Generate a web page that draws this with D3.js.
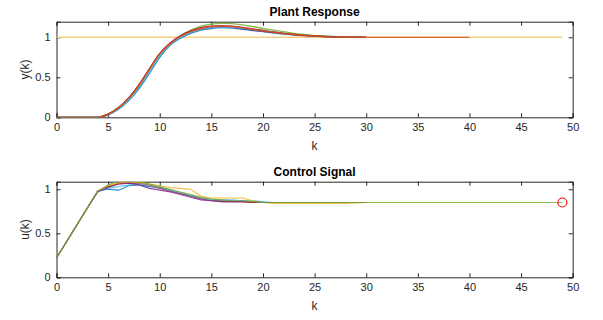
<!DOCTYPE html>
<html>
  <head>
		<title>Plant Response / Control Signal</title>
		<script src="https://d3js.org/d3.v7.min.js"></script>
		<style>
			body { margin: 0; background: #fff; }
			svg { font-family: "Liberation Sans", Arial, sans-serif; }
		</style>
	</head>
	<body>
		<svg width="603" height="320"></svg>

		<script>
			// k = 0..30 for the iterations, reference goes to 49
			var kIter = d3.range(0, 31);
			var kLong = d3.range(0, 50);
			var xTicks = [0, 5, 10, 15, 20, 25, 30, 35, 40, 45, 50];
			var yTicks = [0, 0.5, 1];

			var colors = ["#0072BD", "#D95319", "#EDB120", "#7E2F8E", "#77AC30", "#4DBEEE", "#A2142F"];

			// plant output y(k), one array per iteration
			var yBlue   = [0,0,0,0,0,0.03,0.10,0.21,0.36,0.55,0.75,0.90,0.99,1.05,1.09,1.11,1.12,1.115,1.10,1.085,1.07,1.055,1.04,1.03,1.02,1.013,1.008,1.004,1.002,1.001,1.0];
			var yOrange = [0,0,0,0,0,0.04,0.12,0.24,0.40,0.60,0.79,0.92,1.01,1.07,1.11,1.135,1.14,1.135,1.12,1.10,1.08,1.065,1.05,1.035,1.025,1.017,1.01,1.006,1.003,1.001,1.0];
			var yYellow = [0,0,0,0,0,0.04,0.12,0.24,0.40,0.60,0.79,0.92,1.01,1.07,1.11,1.13,1.135,1.13,1.115,1.10,1.08,1.06,1.045,1.033,1.023,1.015,1.009,1.005,1.002,1.001,1.0];
			var yPurple = [0,0,0,0,0,0.04,0.12,0.24,0.40,0.60,0.79,0.92,1.01,1.065,1.10,1.12,1.13,1.125,1.11,1.09,1.075,1.06,1.045,1.032,1.022,1.014,1.008,1.004,1.002,1.001,1.0];
			var yGreen  = [0,0,0,0,0,0.04,0.12,0.24,0.40,0.60,0.79,0.92,1.02,1.09,1.14,1.165,1.175,1.17,1.155,1.135,1.11,1.09,1.07,1.05,1.035,1.022,1.013,1.007,1.003,1.001,1.0];
			var yLight  = [0,0,0,0,0,0.03,0.11,0.22,0.38,0.57,0.77,0.91,1.00,1.06,1.10,1.12,1.13,1.125,1.115,1.10,1.085,1.07,1.055,1.04,1.03,1.022,1.015,1.01,1.006,1.003,1.0];
			var yRed    = [0,0,0,0,0,0.04,0.12,0.245,0.41,0.61,0.80,0.93,1.02,1.08,1.12,1.14,1.145,1.14,1.125,1.105,1.085,1.065,1.05,1.035,1.025,1.016,1.01,1.006,1.003,1.001,1.0];
			var yIter = [yBlue, yOrange, yYellow, yPurple, yGreen, yLight, yRed];
			// last run keeps going at the setpoint
			var yLastTail = [1.0,1.0,1.0,1.0,1.0,1.0,1.0,1.0,1.0,1.0];
			var ySetpoint = 1;

			// control signal u(k)
			var uBlue   = [0.22,0.41,0.60,0.79,0.98,1.00,0.99,1.04,1.05,1.03,1.02,0.99,0.96,0.93,0.90,0.88,0.87,0.87,0.87,0.86,0.85,0.85,0.85,0.85,0.85,0.85,0.85,0.85,0.85,0.85,0.85];
			var uOrange = [0.22,0.41,0.60,0.79,0.98,1.03,1.07,1.08,1.07,1.05,1.02,0.99,0.96,0.93,0.90,0.88,0.87,0.86,0.86,0.85,0.85,0.85,0.85,0.85,0.85,0.85,0.85,0.85,0.85,0.85,0.85];
			var uYellow = [0.22,0.41,0.60,0.79,0.98,1.04,1.07,1.08,1.08,1.06,1.04,1.02,1.01,1.00,0.92,0.90,0.90,0.90,0.90,0.87,0.85,0.84,0.84,0.84,0.84,0.84,0.84,0.84,0.84,0.845,0.85];
			var uPurple = [0.22,0.41,0.60,0.79,0.97,1.02,1.06,1.07,1.05,1.01,0.99,0.97,0.94,0.91,0.88,0.87,0.86,0.86,0.86,0.86,0.85,0.85,0.85,0.85,0.85,0.85,0.85,0.85,0.85,0.85,0.85];
			var uGreen  = [0.22,0.41,0.60,0.79,0.98,1.05,1.09,1.09,1.08,1.06,1.03,1.00,0.97,0.94,0.91,0.89,0.88,0.87,0.87,0.86,0.85,0.85,0.85,0.85,0.85,0.85,0.85,0.85,0.85,0.85,0.85];
			var uLight  = [0.22,0.41,0.60,0.79,0.98,1.01,1.03,1.05,1.06,1.04,1.02,0.99,0.96,0.93,0.90,0.88,0.88,0.88,0.87,0.87,0.86,0.85,0.85,0.85,0.85,0.85,0.85,0.85,0.85,0.85,0.85];
			var uRed    = [0.22,0.41,0.60,0.79,0.98,1.03,1.06,1.07,1.06,1.04,1.01,0.98,0.95,0.92,0.89,0.87,0.86,0.86,0.86,0.85,0.85,0.85,0.85,0.85,0.85,0.85,0.85,0.85,0.85,0.85,0.85];
			var uIter = [uBlue, uOrange, uYellow, uPurple, uGreen, uLight, uRed];
			var uLastTail = [0.85,0.85,0.85,0.85,0.85,0.85,0.85,0.85,0.85,0.85,0.85,0.85,0.85,0.85,0.85,0.85,0.85,0.85,0.85];
			var uFinal = {k: 49, u: 0.85};

			// drawing order (last one ends up on top, like in the figure)
			var yOrder = [0, 2, 3, 5, 4, 6, 1];
			var uOrder = [0, 1, 6, 5, 2, 3, 4];

			var svg = d3.select("svg");
			var ink = "#262626";

			// one subplot
			function panel(top, height, yMax, title, ylab) {
				var xScale = d3.scaleLinear().domain([0, 50]).range([56.5, 572.7]);
				var yScale = d3.scaleLinear().domain([0, yMax]).range([top + height, top]);
				var g = svg.append("g");

				var clipId = "clip" + Math.round(top);
				g.append("clipPath").attr("id", clipId).append("rect")
					.attr("x", xScale(0)).attr("y", top).attr("width", xScale(50) - xScale(0)).attr("height", height);

				var xAxis = d3.axisBottom(xScale).tickValues(xTicks).tickSize(-4).tickPadding(6).tickFormat(d3.format("d"));
				var yAxis = d3.axisLeft(yScale).tickValues(yTicks).tickSize(-4).tickPadding(6).tickFormat(function(d) { return d; });
				var xTop = d3.axisTop(xScale).tickValues(xTicks).tickSize(-4).tickFormat("");
				var yRight = d3.axisRight(yScale).tickValues(yTicks).tickSize(-4).tickFormat("");

				g.append("g").attr("class", "ax").attr("transform", "translate(0," + (top + height) + ")").call(xAxis);
				g.append("g").attr("class", "ax").attr("transform", "translate(" + xScale(0) + ",0)").call(yAxis);
				g.append("g").attr("class", "ax").attr("transform", "translate(0," + top + ")").call(xTop);
				g.append("g").attr("class", "ax").attr("transform", "translate(" + xScale(50) + ",0)").call(yRight);

				g.selectAll(".ax path").attr("stroke", ink).attr("stroke-width", 1);
				g.selectAll(".ax line").attr("stroke", ink);
				g.selectAll(".ax text").attr("fill", ink).attr("font-size", 11).attr("font-family", "Liberation Sans, Arial, sans-serif");

				g.append("text").attr("x", (xScale(0) + xScale(50)) / 2).attr("y", top - 6)
					.attr("text-anchor", "middle").attr("font-weight", "bold").attr("font-size", 12).attr("fill", "#000")
					.text(title);
				g.append("text").attr("x", (xScale(0) + xScale(50)) / 2).attr("y", top + height + 33)
					.attr("text-anchor", "middle").attr("font-size", 12).attr("fill", ink).text("k");
				g.append("text").attr("transform", "translate(29," + (top + height / 2) + ") rotate(-90)")
					.attr("text-anchor", "middle").attr("font-size", 12).attr("fill", ink).text(ylab);

				var plot = g.append("g").attr("clip-path", "url(#" + clipId + ")");
				return {x: xScale, y: yScale, plot: plot};
			}

			// ---- Plant Response ----
			var p1 = panel(21.7, 95.6, 1.195, "Plant Response", "y(k)");
			var line1 = d3.line().x(function(d) { return p1.x(d[0]); }).y(function(d) { return p1.y(d[1]); }).curve(d3.curveMonotoneX);

			p1.plot.append("path")
				.attr("d", d3.line().x(function(d) { return p1.x(d); }).y(p1.y(ySetpoint))(kLong))
				.attr("fill", "none").attr("stroke", "#F2CF82").attr("stroke-width", 1.6);

			yOrder.forEach(function(i) {
				var s = yIter[i];
				var pts = kIter.map(function(k) { return [k, s[k]]; });
				if (i == 1) pts = pts.concat(yLastTail.map(function(v, j) { return [31 + j, v]; }));
				p1.plot.append("path").attr("d", line1(pts))
					.attr("fill", "none").attr("stroke", colors[i]).attr("stroke-width", 1.3).attr("opacity", 0.85);
			});

			// ---- Control Signal ----
			var p2 = panel(181.7, 95.6, 1.086, "Control Signal", "u(k)");
			var line2 = d3.line().x(function(d) { return p2.x(d[0]); }).y(function(d) { return p2.y(d[1]); });

			uOrder.forEach(function(i) {
				var s = uIter[i];
				var pts = kIter.map(function(k) { return [k, s[k]]; });
				if (i == 4) pts = pts.concat(uLastTail.map(function(v, j) { return [31 + j, v]; }));
				p2.plot.append("path").attr("d", line2(pts))
					.attr("fill", "none").attr("stroke", colors[i]).attr("stroke-width", 1.1).attr("opacity", 0.85);
			});

			svg.append("circle").attr("cx", p2.x(uFinal.k)).attr("cy", p2.y(uFinal.u)).attr("r", 4.5)
				.attr("fill", "none").attr("stroke", "#FF0000").attr("stroke-width", 1.1);
		</script>
	</body>
</html>
